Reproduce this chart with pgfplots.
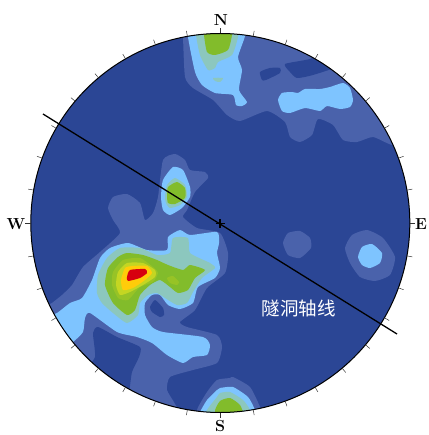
\documentclass[border=0pt]{standalone}
\usepackage{fontspec}
\newfontfamily\cjk{Noto Sans CJK SC}
\usepackage{pgfplots}
\pgfplotsset{compat=1.18}

\definecolor{base}{HTML}{2B4695}
\definecolor{lone}{HTML}{4A62AB}
\definecolor{ltwo}{HTML}{7EC4FF}
\definecolor{lthree}{HTML}{8CC7BE}
\definecolor{lfour}{HTML}{82BC2B}
\definecolor{lfive}{HTML}{97C326}
\definecolor{lsix}{HTML}{C4D622}
\definecolor{lseven}{HTML}{FFCC0A}
\definecolor{leight}{HTML}{D7000F}

\pgfplotsset{
  blob/.style={fill=#1,draw=none,smooth cycle,tension=0.35},
}

\begin{document}
\begin{tikzpicture}
\begin{axis}[
  hide axis,
  scale only axis,
  width=428pt, height=435pt,
  xmin=0, xmax=428,
  ymin=0, ymax=435,
  y dir=reverse,
  clip=false,
]
\path[use as bounding box] (axis cs:0,0) rectangle (axis cs:428,435);

\begin{scope}
\clip (axis cs:220.3,223) circle [radius=189.5];
\fill[base] (axis cs:220.3,223) circle [radius=189.5];

% level 1
\addplot[blob=lone] coordinates {(183,20) (183,36) (185,77) (193,88) (213,100) (227,115) (240,121) (267,111) (285,122) (290,137) (300,142) (312,135) (318,119) (333,125) (343,140) (357,142) (373,137) (392,145) (425,150) (420,60) (300,10)};
\addplot[blob=lone] coordinates {(108,208) (113,197) (127,194) (140,203) (145,220) (153,213) (158,197) (163,160) (175,154) (185,160) (190,170) (205,172) (208,178) (195,192) (187,210) (183,217) (197,228) (220,233) (228,253) (225,273) (207,288) (195,310) (180,322) (187,327) (217,335) (222,347) (217,363) (193,370) (170,377) (167,390) (175,404) (180,420) (100,420) (30,320) (52,303) (62,295) (72,285) (83,267) (100,252) (120,233) (113,220)};
\addplot[blob=lone] coordinates {(230,378) (217,380) (207,392) (197,410) (200,425) (265,425) (260,407) (250,387) (233,377)};
\addplot[blob=lone] coordinates {(283,243) (288,233) (300,231) (310,238) (311,248) (300,258) (288,255)};
\addplot[blob=lone] coordinates {(345,248) (352,235) (367,230) (383,238) (395,257) (390,275) (375,281) (360,277) (350,263)};

% darker patches inside level 1
\addplot[blob=base] coordinates {(260,72) (270,68) (280,68) (280,73) (266,80) (262,80)};
\addplot[blob=base] coordinates {(285,64) (310,59) (330,50) (340,65) (313,75) (297,78) (290,72)};
\addplot[blob=base] coordinates {(93,333) (98,327) (117,337) (140,347) (139,357) (132,372) (129,393) (125,405) (85,375) (95,357)};
\addplot[blob=base] coordinates {(150,307) (155,300) (163,308) (164,315) (160,317) (152,312)};

% level 2
\addplot[blob=ltwo] coordinates {(188,20) (188,37) (195,72) (202,85) (215,93) (233,95) (236,105) (242,106) (247,102) (239,90) (242,70) (238,57) (245,36) (245,20)};
\addplot[blob=ltwo] coordinates {(278,100) (282,93) (292,92) (298,93) (305,89) (320,89) (330,87) (343,83) (350,88) (353,100) (350,107) (340,109) (327,106) (320,111) (305,108) (290,113) (282,111)};
\addplot[blob=ltwo] coordinates {(57,313) (70,303) (82,298) (92,280) (100,258) (110,248) (128,243) (147,250) (167,250) (168,237) (180,230) (190,235) (217,232) (219,243) (217,253) (220,268) (215,278) (198,287) (193,303) (180,309) (168,305) (160,295) (152,295) (145,303) (145,315) (152,327) (163,332) (203,337) (210,345) (207,355) (193,357) (183,363) (167,355) (152,343) (137,337) (117,332) (90,313) (85,318) (83,332) (73,342) (60,350) (42,320)};
\addplot[blob=ltwo] coordinates {(161,197) (163,180) (173,167) (183,170) (190,187) (190,197) (182,208) (170,215) (163,210)};
\addplot[blob=ltwo] coordinates {(358,257) (362,247) (372,244) (382,253) (380,263) (370,268) (362,265)};
\addplot[blob=ltwo] coordinates {(220,388) (233,387) (248,397) (255,410) (258,425) (195,425) (200,412) (207,400) (217,390)};

% level 3
\addplot[blob=lthree] coordinates {(196,22) (196,35) (200,55) (208,70) (215,68) (218,62) (232,55) (238,37) (238,22)};
\addplot[blob=lthree] coordinates {(213,78) (223,78) (220,82) (215,81)};
\addplot[blob=lthree] coordinates {(97,293) (98,275) (107,258) (120,248) (140,248) (157,255) (170,253) (173,238) (188,238) (190,253) (210,263) (215,268) (202,278) (193,292) (187,303) (177,305) (165,298) (157,293) (148,295) (140,303) (138,315) (127,323) (113,313) (102,303)};
\addplot[blob=lthree] coordinates {(165,197) (167,185) (175,178) (185,185) (187,197) (180,205) (170,208) (166,203)};
\addplot[blob=lthree] coordinates {(220,393) (230,392) (243,400) (250,410) (252,425) (203,425) (207,410) (217,397)};

% level 4
\addplot[blob=lfour] coordinates {(204,22) (204,35) (207,52) (215,55) (228,50) (232,35) (232,22)};
\addplot[blob=lfour] coordinates {(105,285) (108,268) (118,257) (127,253) (143,255) (157,260) (168,265) (183,270) (190,265) (205,270) (195,278) (188,290) (178,293) (170,287) (160,280) (150,285) (140,295) (135,310) (127,315) (113,303)};
\addplot[blob=lfour] coordinates {(167,195) (168,187) (177,182) (185,188) (185,198) (175,204) (168,203)};
\addplot[blob=lfour] coordinates {(215,412) (220,401) (230,398) (240,405) (243,415) (230,420)};

% hot core
\addplot[blob=lfive] coordinates {(112,285) (113,272) (123,260) (140,258) (153,267) (158,273) (153,282) (140,287) (128,300) (118,298)};
\addplot[blob=lfive] coordinates {(167,278) (173,276) (179,282) (177,285) (170,283)};
\addplot[blob=lsix] coordinates {(116,285) (118,272) (127,263) (143,263) (155,270) (155,277) (143,285) (130,292) (120,295)};
\addplot[blob=lseven] coordinates {(121,280) (125,268) (132,266) (147,266) (152,273) (145,280) (133,288) (123,290)};
\addplot[blob=leight] coordinates {(127,277) (130,270) (145,269) (147,273) (140,278) (128,281)};
\end{scope}

\draw[black,line width=1pt] (axis cs:220.3,223) circle [radius=189.5];

% ticks every 10 degrees
\pgfplotsinvokeforeach{0,10,...,350}{
  \draw[black!80,line width=0.5pt]
    (axis cs:{220.3+189.5*sin(#1)},{223-189.5*cos(#1)}) --
    (axis cs:{220.3+195*sin(#1)},{223-195*cos(#1)});
}

% tunnel axis and centre mark
\addplot[black,line width=1.3pt] coordinates {(43,114) (397,334)};
\addplot[black,line width=1.3pt] coordinates {(215.5,223.5) (224.5,223.5)};
\addplot[black,line width=1.3pt] coordinates {(220,219) (220,228)};

\node[inner sep=0pt,font=\bfseries\fontsize{16}{16}\selectfont] at (axis cs:221,20) {N};
\node[inner sep=0pt,font=\bfseries\fontsize{16}{16}\selectfont] at (axis cs:421,224) {E};
\node[inner sep=0pt,font=\bfseries\fontsize{16}{16}\selectfont] at (axis cs:220,426.5) {S};
\node[inner sep=0pt,font=\bfseries\fontsize{16}{16}\selectfont] at (axis cs:16,224) {W};
\node[white,font=\cjk\fontsize{18.5}{18.5}\selectfont] at (axis cs:298.5,308) {隧洞轴线};

\end{axis}
\end{tikzpicture}
\end{document}
